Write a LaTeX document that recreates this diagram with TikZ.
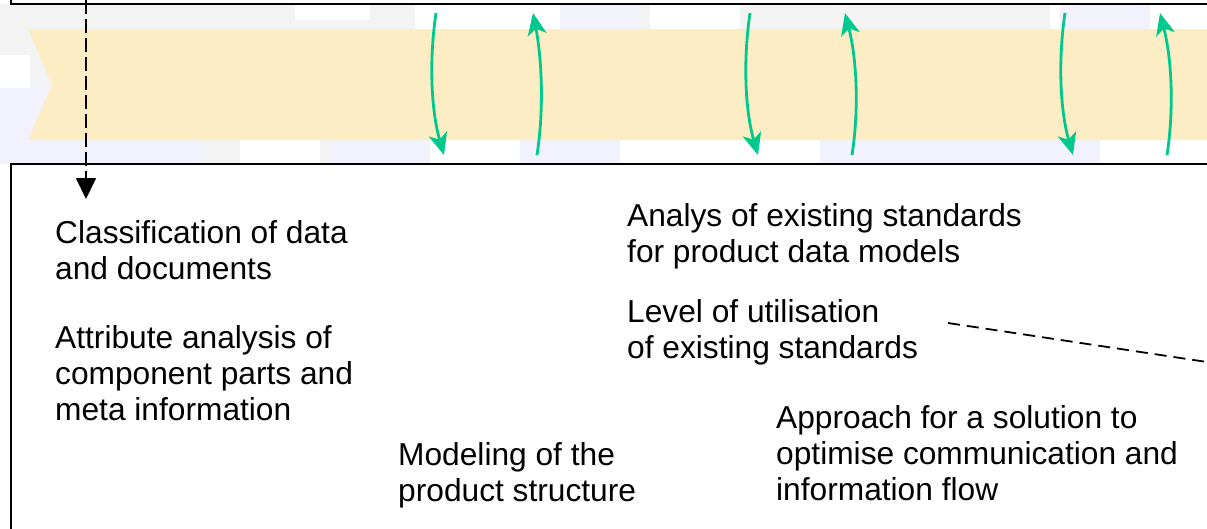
\documentclass[tikz,border=0pt]{standalone}
\usepackage{fontspec}
\setmainfont{Liberation Sans}
\usetikzlibrary{arrows.meta}
\definecolor{band}{HTML}{FDEDC4}
\definecolor{grn}{HTML}{00C98E}
\definecolor{bgg}{HTML}{F3F3F3}
\definecolor{lav}{HTML}{F2F2FC}
\tikzset{
  boxline/.style={draw=black, line width=1.8pt, fill=white},
  lbl/.style={anchor=base west, inner sep=0pt, align=left, font=\fontsize{31.7}{36}\selectfont},
  flow/.style={draw=grn, line width=2.8pt, -{Stealth[length=22pt,width=19pt,inset=6pt]}},
  dashedline/.style={draw=black, line width=1.8pt, dash pattern=on 12pt off 7pt}
}
\begin{document}
\begin{tikzpicture}[x=1pt,y=-1pt]
\useasboundingbox (0,0) rectangle (1207,528);
% background patches
\fill[white] (0,0) rectangle (1207,528);
\fill[bgg] (0,4) rectangle (1207,164);
\fill[white] (295,5) rectangle (370,20);
\fill[white] (0,55) rectangle (30,90);
\fill[lav] (0,88) rectangle (200,164);
\fill[white] (240,140) rectangle (320,164);
\fill[lav] (330,140) rectangle (1207,164);
\fill[white] (415,4) rectangle (560,29);
\fill[lav] (560,4) rectangle (640,29);
\fill[white] (650,4) rectangle (740,29);
\fill[white] (1050,4) rectangle (1207,29);
\fill[lav] (1060,4) rectangle (1150,29);
\fill[white] (430,140) rectangle (520,164);
\fill[white] (620,140) rectangle (820,164);
\fill[white] (1100,140) rectangle (1207,164);
% boxes
\path[boxline] (11,-10) rectangle (1220,4);
\path[boxline] (11,164) rectangle (1220,540);
% band
\fill[band] (28,29) -- (1207,29) -- (1207,140) -- (28,140) -- (52,85) -- cycle;
% green arrows
\coordinate (a1s) at (436,13); \coordinate (a1e) at (444,155);
\coordinate (a2s) at (537,155); \coordinate (a2e) at (533,13);
\coordinate (a3s) at (750,13); \coordinate (a3e) at (758,155);
\coordinate (a4s) at (852,155); \coordinate (a4e) at (845,13);
\coordinate (a5s) at (1065,13); \coordinate (a5e) at (1073,155);
\coordinate (a6s) at (1167,155); \coordinate (a6e) at (1160,13);
\draw[flow] (a1s) .. controls (429,60) and (431,110) .. (a1e);
\draw[flow] (a2s) .. controls (544,110) and (542,60) .. (a2e);
\draw[flow] (a3s) .. controls (743,60) and (745,110) .. (a3e);
\draw[flow] (a4s) .. controls (859,110) and (857,60) .. (a4e);
\draw[flow] (a5s) .. controls (1058,60) and (1060,110) .. (a5e);
\draw[flow] (a6s) .. controls (1174,110) and (1172,60) .. (a6e);
% texts (anchor = baseline of last line)
\node[lbl] (cls) at (55,279) {Classification of data\\and documents};
\node[lbl] (att) at (55,420) {Attribute analysis of\\component parts and\\meta information};
\node[lbl] (ana) at (627,262) {Analys of existing standards\\for product data models};
\node[lbl] (lev) at (627,358) {Level of utilisation\\of existing standards};
\node[lbl] (mod) at (398,501) {Modeling of the\\product structure};
\node[lbl] (app) at (776,500) {Approach for a solution to\\optimise communication and\\information flow};
% dashed connectors
\coordinate (dtop) at (86,0);
\coordinate (dend) at (86,199);
\draw[dashedline, -{Triangle[length=21pt,width=20pt]}, dash pattern=on 14pt off 5pt] (dtop) -- (dend);
\coordinate (ls) at (948,323);
\coordinate (le) at (1207,362);
\draw[dashedline] (ls) -- (le);
\end{tikzpicture}
\end{document}
